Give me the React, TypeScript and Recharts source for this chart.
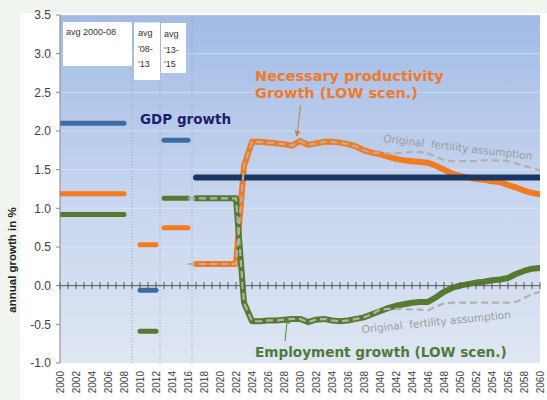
import React from 'react';
import {
  ComposedChart,
  Line,
  XAxis,
  YAxis,
  CartesianGrid,
  ReferenceLine,
  ReferenceDot,
} from 'recharts';

// ---------- data ----------
const years: number[] = [];
for (let y = 2000; y <= 2060; y++) years.push(y);
const xTicks = [
  2000, 2002, 2004, 2006, 2008, 2010, 2012, 2014, 2016, 2018, 2020, 2022, 2024, 2026, 2028, 2030,
  2032, 2034, 2036, 2038, 2040, 2042, 2044, 2046, 2048, 2050, 2052, 2054, 2056, 2058, 2060,
];
const yTicks = [-1, -0.5, 0, 0.5, 1, 1.5, 2, 2.5, 3, 3.5];

// historical averages: periods 2000-08, '08-'13, '13-'15
const avgPeriods: [number, number][] = [
  [2000, 2008],
  [2010, 2012],
  [2013, 2016],
];
const gdpAvg = [2.1, -0.06, 1.88];
const productivityAvg = [1.19, 0.53, 0.75];
const employmentAvg = [0.92, -0.59, 1.13];

// projected GDP growth (constant assumption)
const gdpProjection = { from: 2017, to: 2060, value: 1.4 };

// LOW fertility scenario, 2017..2060
const lowStart = 2017;
const productivityLow = [
  0.28, 0.28, 0.28, 0.28, 0.28, 0.28,
  1.55, 1.86, 1.86, 1.85, 1.84, 1.83, 1.81, 1.87, 1.82, 1.84, 1.86, 1.86, 1.85, 1.83, 1.8, 1.75, 1.72,
  1.7, 1.67, 1.64, 1.62, 1.61, 1.6, 1.59, 1.55, 1.5, 1.45, 1.42, 1.4, 1.38, 1.37, 1.35, 1.34, 1.3,
  1.27, 1.23, 1.2, 1.18,
];
const employmentLow = [
  1.13, 1.13, 1.13, 1.13, 1.13, 1.13,
  -0.22, -0.46, -0.46, -0.45, -0.45, -0.44, -0.43, -0.43, -0.47, -0.44, -0.43, -0.45, -0.46, -0.45,
  -0.43, -0.41, -0.37,
  -0.33, -0.29, -0.26, -0.24, -0.22, -0.21, -0.21, -0.15, -0.08, -0.03, 0.0, 0.02, 0.04, 0.05, 0.07,
  0.08, 0.1, 0.15, 0.19, 0.22, 0.23,
];

// original fertility assumption, 2016..2060
const origStart = 2016;
const productivityOrig = [
  0.28, 0.28, 0.28, 0.28, 0.28, 0.28, 0.28,
  1.55, 1.86, 1.86, 1.85, 1.84, 1.83, 1.81, 1.87, 1.82, 1.84, 1.86, 1.86, 1.85, 1.83, 1.8, 1.75, 1.72,
  1.72, 1.71, 1.71, 1.72, 1.73, 1.73, 1.71, 1.67, 1.62, 1.61, 1.61, 1.61, 1.61, 1.62, 1.62, 1.62,
  1.61, 1.58, 1.55, 1.52, 1.49,
];
const employmentOrig = [
  1.13, 1.13, 1.13, 1.13, 1.13, 1.13, 1.13,
  -0.22, -0.46, -0.46, -0.45, -0.45, -0.44, -0.43, -0.43, -0.47, -0.44, -0.43, -0.45, -0.46, -0.45,
  -0.43, -0.41, -0.37,
  -0.31, -0.3, -0.3, -0.3, -0.31, -0.31, -0.32, -0.27, -0.23, -0.22, -0.22, -0.22, -0.22, -0.22,
  -0.22, -0.22, -0.22, -0.21, -0.16, -0.11, -0.08,
];

const separators = [2009, 2012.5, 2016.5];

// ---------- colours ----------
const BLUE = '#3b6da4';
const NAVY = '#1a3763';
const ORANGE = '#f37a1f';
const GREEN = '#567a2f';
const GRAY = '#b3b0ab';

// ---------- build table ----------
const data = years.map((year) => {
  const row: Record<string, number | null> = { year };
  avgPeriods.forEach(([a, b], i) => {
    if (year >= a && year <= b) {
      row['gdpAvg' + i] = gdpAvg[i];
      row['prodAvg' + i] = productivityAvg[i];
      row['empAvg' + i] = employmentAvg[i];
    }
  });
  if (year >= gdpProjection.from && year <= gdpProjection.to) row.gdp = gdpProjection.value;
  const li = year - lowStart;
  if (li >= 0 && li < productivityLow.length) {
    row.prodLow = productivityLow[li];
    row.empLow = employmentLow[li];
  }
  const oi = year - origStart;
  if (oi >= 0 && oi < productivityOrig.length) {
    row.prodOrig = productivityOrig[oi];
    row.empOrig = employmentOrig[oi];
  }
  return row;
});

const FONT = '"Liberation Sans", Arial, sans-serif';
const BOLD = '"DejaVu Sans", Verdana, sans-serif';

const XTick = (props: any) => {
  const { x, payload } = props;
  const ax = x + 3.5;
  const ay = 371;
  return (
    <text
      x={ax}
      y={ay}
      transform={`rotate(-90, ${ax}, ${ay})`}
      textAnchor="end"
      fontSize={10}
      fontFamily={FONT}
      fill="#404040"
    >
      {payload.value}
    </text>
  );
};

const ZeroTick = (props: any) => {
  const { cx, cy } = props;
  return <line x1={cx} x2={cx} y1={cy - 3.5} y2={cy + 3.5} stroke="#555" strokeWidth={1} />;
};

export default function App() {
  const segLines: React.ReactNode[] = [];
  avgPeriods.forEach((_, i) => {
    segLines.push(
      <Line key={'g' + i} dataKey={'gdpAvg' + i} stroke={BLUE} strokeWidth={5} strokeLinecap="round" dot={false} isAnimationActive={false} connectNulls={false} />,
      <Line key={'p' + i} dataKey={'prodAvg' + i} stroke={ORANGE} strokeWidth={5} strokeLinecap="round" dot={false} isAnimationActive={false} connectNulls={false} />,
      <Line key={'e' + i} dataKey={'empAvg' + i} stroke={GREEN} strokeWidth={5} strokeLinecap="round" dot={false} isAnimationActive={false} connectNulls={false} />
    );
  });

  return (
    <div style={{ position: 'absolute', left: 0, top: 0, width: 547, height: 400, background: '#f1f5f0' }}>
      <div style={{ position: 'absolute', left: 20, top: 13, width: 527, height: 387, background: '#ffffff' }} />
      <svg width={0} height={0} style={{ position: 'absolute' }}>
        <defs>
          <linearGradient id="plotBg" x1="0" y1="0" x2="0" y2="1">
            <stop offset="0%" stopColor="#a1bbe6" />
            <stop offset="50%" stopColor="#c6d4ee" />
            <stop offset="100%" stopColor="#dfe6f3" />
          </linearGradient>
        </defs>
      </svg>
      <div style={{ position: 'absolute', left: 0, top: 0 }}>
        <ComposedChart width={547} height={400} data={data} margin={{ top: 15, right: 7, bottom: 0, left: 0 }}>
          <CartesianGrid
            vertical={false}
            fill="url(#plotBg)"
            stroke="#e6ecf6"
            strokeOpacity={0.55}
            horizontalValues={yTicks}
          />
          <XAxis
            dataKey="year"
            type="number"
            domain={[2000, 2060]}
            ticks={xTicks}
            interval={0}
            height={37}
            axisLine={false}
            tickLine={false}
            tick={<XTick />}
            allowDataOverflow
          />
          <YAxis
            type="number"
            domain={[-1, 3.5]}
            ticks={yTicks}
            interval={0}
            width={60}
            tickSize={4}
            tickMargin={5}
            axisLine={{ stroke: '#868686' }}
            tickLine={{ stroke: '#868686' }}
            tick={{ fontSize: 12, fontFamily: FONT, fill: '#404040' }}
            tickFormatter={(v: number) => v.toFixed(1)}
            allowDataOverflow
          />
          {separators.map((s) => (
            <ReferenceLine key={'s' + s} x={s} stroke="#97a3b8" strokeDasharray="1 2" strokeWidth={1} />
          ))}
          <ReferenceLine y={0} stroke="#555" strokeWidth={1} />
          {years.map((y) => (
            <ReferenceDot key={'t' + y} x={y} y={0} r={3} shape={ZeroTick} />
          ))}
          {segLines}
          <Line dataKey="prodLow" stroke={ORANGE} strokeWidth={6} strokeLinecap="round" strokeLinejoin="round" dot={false} isAnimationActive={false} />
          <Line dataKey="empLow" stroke={GREEN} strokeWidth={6} strokeLinecap="round" strokeLinejoin="round" dot={false} isAnimationActive={false} />
          <Line dataKey="gdp" stroke={NAVY} strokeWidth={6} strokeLinecap="round" dot={false} isAnimationActive={false} />
          <Line dataKey="prodOrig" stroke={GRAY} strokeWidth={2.2} strokeDasharray="7 4" dot={false} isAnimationActive={false} />
          <Line dataKey="empOrig" stroke={GRAY} strokeWidth={2.2} strokeDasharray="7 4" dot={false} isAnimationActive={false} />
        </ComposedChart>
      </div>
      <svg width={547} height={400} style={{ position: 'absolute', left: 0, top: 0, pointerEvents: 'none' }}>
        <defs>
          <marker id="arrO" viewBox="0 0 10 10" refX="9" refY="5" markerWidth="6" markerHeight="6" orient="auto">
            <path d="M0,0 L10,5 L0,10 z" fill="#b9835a" />
          </marker>
          <marker id="arrG" viewBox="0 0 10 10" refX="9" refY="5" markerWidth="6" markerHeight="6" orient="auto">
            <path d="M0,0 L10,5 L0,10 z" fill="#4f8a3e" />
          </marker>
        </defs>
        {/* average boxes */}
        <rect x={63} y={22} width={69} height={44} fill="#ffffff" />
        <text x={66} y={35} fontSize={9} fontFamily={FONT} fill="#333">avg 2000-08</text>
        <rect x={134} y={22.5} width={26} height={57.5} fill="#ffffff" />
        <text fontSize={9} fontFamily={FONT} fill="#333">
          <tspan x={138} y={36}>avg</tspan>
          <tspan x={138} y={52}>'08-</tspan>
          <tspan x={138} y={67}>'13</tspan>
        </text>
        <rect x={161} y={23} width={25} height={50} fill="#ffffff" />
        <text fontSize={9} fontFamily={FONT} fill="#333">
          <tspan x={164} y={37}>avg</tspan>
          <tspan x={164} y={53}>'13-</tspan>
          <tspan x={164} y={67}>'15</tspan>
        </text>
        {/* y axis title */}
        <text
          x={16}
          y={260}
          transform="rotate(-90, 16, 260)"
          textAnchor="middle"
          fontSize={11.5}
          fontWeight="bold"
          fontFamily={FONT}
          fill="#222"
        >
          annual growth in %
        </text>
        {/* annotations */}
        <text x={140} y={124} fontSize={13.5} fontWeight="bold" fontFamily={BOLD} fill="#1e1e6e">GDP growth</text>
        <text fontSize={14.5} fontWeight="bold" fontFamily={BOLD} fill="#f07a2a">
          <tspan x={255} y={81}>Necessary productivity</tspan>
          <tspan x={255} y={98}>Growth (LOW scen.)</tspan>
        </text>
        <line x1={300.7} y1={105} x2={296.8} y2={136} stroke="#b9835a" strokeWidth={1} markerEnd="url(#arrO)" />
        <text x={255} y={357} fontSize={13.6} fontWeight="bold" fontFamily={BOLD} fill="#4e7a3a">Employment growth (LOW scen.)</text>
        <line x1={285} y1={341} x2={287.5} y2={318} stroke="#4f8a3e" strokeWidth={1} markerEnd="url(#arrG)" />
        <text
          x={383}
          y={142}
          transform="rotate(6.8, 383, 142)"
          fontSize={10.5}
          fontFamily={BOLD}
          fill="#9b9b9b"
          style={{ whiteSpace: 'pre' }}
        >
          {'Original  fertility assumption'}
        </text>
        <text
          x={362}
          y={333}
          transform="rotate(-5.7, 362, 333)"
          fontSize={10.5}
          fontFamily={BOLD}
          fill="#9b9b9b"
          style={{ whiteSpace: 'pre' }}
        >
          {'Original  fertility assumption'}
        </text>
      </svg>
    </div>
  );
}
